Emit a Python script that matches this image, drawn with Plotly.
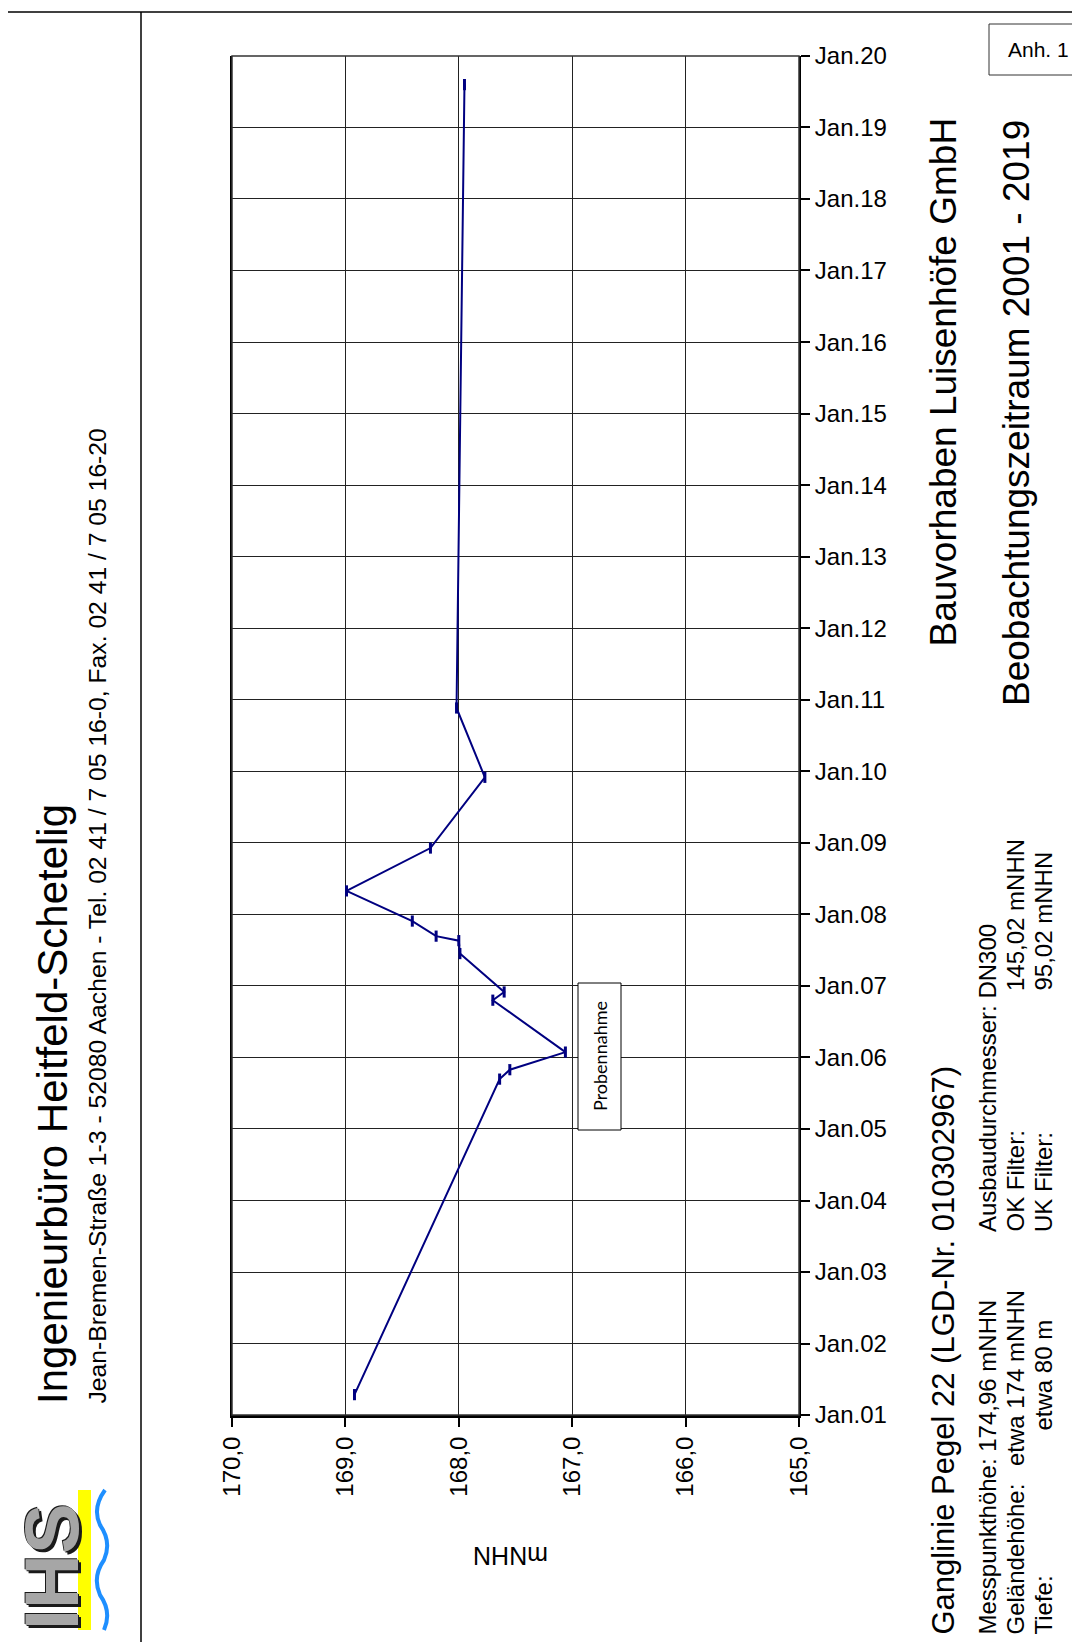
import plotly.graph_objects as go

# ---- data ----
dates = ['2001-04-15', '2005-09-12', '2005-10-30', '2006-01-28', '2006-10-20',
         '2006-12-01', '2007-06-15', '2007-08-20', '2007-09-12', '2007-11-28',
         '2008-04-30', '2008-12-05', '2009-12-01', '2010-11-20', '2019-08-08']
levels = [168.92, 167.64, 167.55, 167.06, 167.70,
          167.60, 167.99, 168.00, 168.20, 168.41,
          168.99, 168.25, 167.77, 168.02, 167.95]
x_ticks = [170, 169, 168, 167, 166, 165]
date_range = ['2001-01-01', '2020-01-01']
sample_label = 'Probennahme'

FW, FH = 1080, 1642
L, R, T, B = 224, 791, 48, 1407
W, H = R - L, B - T


def px(x):
    return (x - L) / W


def py(y):
    return (B - y) / H


NAVY = '#000080'
FONT = 'Liberation Sans, Arial, sans-serif'

fig = go.Figure()
fig.add_trace(go.Scatter(
    x=levels, y=dates, mode='lines+markers',
    line=dict(color=NAVY, width=2),
    marker=dict(symbol='line-ns', size=8, line=dict(color=NAVY, width=3)),
    showlegend=False, hoverinfo='x+y'))

shapes = []
annotations = []

# page frame lines
shapes.append(dict(type='line', xref='paper', yref='paper',
                   x0=px(0), x1=px(FW), y0=py(4), y1=py(4),
                   line=dict(color='black', width=1.5)))
shapes.append(dict(type='line', xref='paper', yref='paper',
                   x0=px(133), x1=px(133), y0=py(4), y1=py(FH),
                   line=dict(color='black', width=1.5)))
# plot area border
shapes.append(dict(type='rect', xref='paper', yref='paper',
                   x0=0, x1=1, y0=0, y1=1,
                   line=dict(color='#333333', width=1.5)))

# Probennahme box
shapes.append(dict(type='rect', xref='paper', yref='paper',
                   x0=px(570), x1=px(613), y0=py(975), y1=py(1122),
                   line=dict(color='black', width=1), fillcolor='white', layer='above'))
annotations.append(dict(text=sample_label, xref='paper', yref='paper',
                        x=px(591.5), y=py(1048.5), textangle=-90, showarrow=False,
                        xanchor='center', yanchor='middle',
                        font=dict(family='Lato, Open Sans, sans-serif', size=18, color='black')))

# Anh. 1 box
shapes.append(dict(type='rect', xref='paper', yref='paper',
                   x0=px(981), x1=px(1079), y0=py(16), y1=py(67),
                   line=dict(color='#333333', width=1)))
annotations.append(dict(text='Anh. 1', xref='paper', yref='paper',
                        x=px(1030), y=py(41.5), showarrow=False,
                        xanchor='center', yanchor='middle',
                        font=dict(family=FONT, size=21, color='black')))


def vtext(text, xc, ybottom, size, anchor='bottom'):
    annotations.append(dict(text=text, xref='paper', yref='paper',
                            x=px(xc), y=py(ybottom), textangle=-90, showarrow=False,
                            xanchor='center', yanchor=anchor,
                            font=dict(family=FONT, size=size, color='black')))


# left strip
vtext('Ingenieurbüro Heitfeld-Schetelig', 44, 1398, 42)
vtext('Jean-Bremen-Straße 1-3 - 52080 Aachen - Tel. 02 41 / 7 05 16-0, Fax. 02 41 / 7 05 16-20',
      89, 1398, 24.7)

# right titles
vtext('Bauvorhaben Luisenhöfe GmbH', 935, 641, 37)
vtext('Beobachtungszeitraum 2001 - 2019', 1008, 700, 37)
vtext('Ganglinie Pegel 22 (LGD-Nr. 010302967)', 935, 1629, 31)

# info block
vtext('Messpunkthöhe: 174,96 mNHN', 979, 1629, 24)
vtext('Geländehöhe:', 1007, 1629, 24)
vtext('etwa 174 mNHN', 1007, 1460, 24)
vtext('Tiefe:', 1035, 1629, 24)
vtext('etwa 80 m', 1035, 1425, 24)
vtext('Ausbaudurchmesser: DN300', 979, 1226, 24)
vtext('OK Filter:', 1007, 1226, 24)
vtext('145,02 mNHN', 1007, 985, 24)
vtext('UK Filter:', 1035, 1226, 24)
vtext('95,02 mNHN', 1035, 985, 24)

# axis title (rendered upside down in the reference)
annotations.append(dict(text='mNHN', xref='paper', yref='paper',
                        x=px(503), y=py(1548), textangle=180, showarrow=False,
                        xanchor='center', yanchor='middle',
                        font=dict(family=FONT, size=25, color='black')))

# logo
shapes.append(dict(type='rect', xref='paper', yref='paper',
                   x0=px(70), x1=px(83), y0=py(1482), y1=py(1622),
                   line=dict(width=0), fillcolor='#ffff00'))


def P(x, y):
    return f'{px(x):.5f},{py(y):.5f}'


wave = ('M ' + P(97, 1482) + ' Q ' + P(84, 1500) + ' ' + P(92, 1517) +
        ' Q ' + P(104, 1534) + ' ' + P(96, 1552) +
        ' Q ' + P(84, 1569) + ' ' + P(92, 1587) +
        ' Q ' + P(104, 1604) + ' ' + P(96, 1622))
shapes.append(dict(type='path', xref='paper', yref='paper', path=wave,
                   line=dict(color='#1e8fff', width=4)))
annotations.append(dict(text='<b>IHS</b>', xref='paper', yref='paper',
                        x=px(0), y=py(1623), textangle=-90, showarrow=False,
                        xanchor='left', yanchor='bottom', borderpad=0,
                        font=dict(family=FONT, size=76, color='#a6a6a6',
                                  shadow='-3px 3px 0px #1a1a1a, 1px -1px 0px #1a1a1a, -1px 1px 0px #1a1a1a')))

fig.update_layout(
    width=FW, height=FH,
    margin=dict(l=L, r=FW - R, t=T, b=FH - B, pad=0),
    paper_bgcolor='white', plot_bgcolor='white',
    separators=', ',
    shapes=shapes, annotations=annotations,
    font=dict(family=FONT, size=24, color='black'),
    xaxis=dict(range=[170, 165], tickvals=x_ticks, tickformat='.1f',
               tickangle=-90, ticks='outside', ticklen=9, tickwidth=1.5,
               tickcolor='black', showgrid=True, gridcolor='#222222', gridwidth=1,
               showline=True, linecolor='black', linewidth=3, zeroline=False,
               tickfont=dict(family=FONT, size=24, color='black')),
    yaxis=dict(type='date', range=date_range, side='right',
               dtick='M12', tick0='2001-01-01', tickformat='%b.%y',
               ticks='outside', ticklen=9, tickwidth=1.5, tickcolor='black',
               showgrid=True, gridcolor='#222222', gridwidth=1,
               showline=True, linecolor='black', linewidth=2, mirror=True,
               zeroline=False,
               tickfont=dict(family=FONT, size=24, color='black')),
)

fig.write_html('out.html')
